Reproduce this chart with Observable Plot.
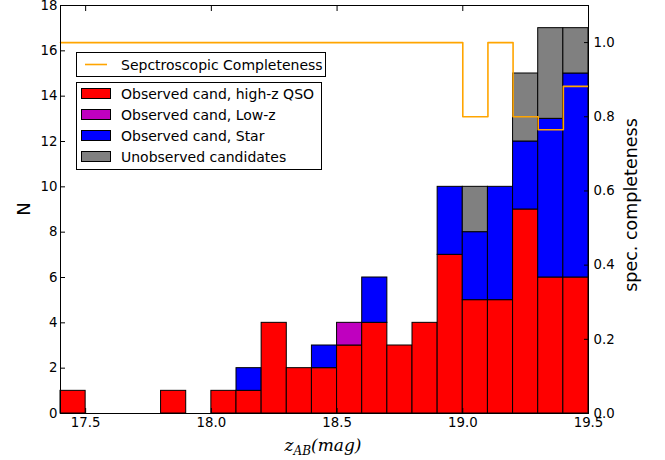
<!DOCTYPE html>
<html><head><meta charset="utf-8">
<script src="https://cdn.jsdelivr.net/npm/d3@7"></script>
<script src="https://cdn.jsdelivr.net/npm/@observablehq/plot@0.6"></script>
<style>
body{margin:0;background:#fff}
#chart svg{font-family:"DejaVu Sans",sans-serif;overflow:visible}
</style>
</head><body><div id="chart"></div>
<script>
// bin starts (width 0.1 mag)
const binStarts = [17.4,17.5,17.6,17.7,17.8,17.9,18.0,18.1,18.2,18.3,18.4,18.5,18.6,18.7,18.8,18.9,19.0,19.1,19.2,19.3,19.4];
const binEnd = 19.5;
const qso   = [1,0,0,0,1,0,1,1,4,2,2,3,4,3,4,7,5,5,9,6,6];
const lowz  = [0,0,0,0,0,0,0,0,0,0,0,1,0,0,0,0,0,0,0,0,0];
const star  = [0,0,0,0,0,0,0,1,0,0,1,0,2,0,0,3,3,5,3,7,9];
const unobs = [0,0,0,0,0,0,0,0,0,0,0,0,0,0,0,0,2,0,3,4,2];
const completeness = [1,1,1,1,1,1,1,1,1,1,1,1,1,1,1,1,0.8,1,0.8,0.765,0.882];
const seriesNames = ["Observed cand, high-z QSO","Observed cand, Low-z","Observed cand, Star","Unobserved candidates"];
const seriesColors = ["#ff0000","#bf00bf","#0000ff","#808080"];
const lineName = "Sepctroscopic Completeness";
const xTicks = [17.5,18.0,18.5,19.0,19.5];
const yTicks = [0,2,4,6,8,10,12,14,16,18];
const y2Ticks = [0,0.2,0.4,0.6,0.8,1.0];
const yMax = 18, y2Max = 1.1;

const W = 665, H = 460;
const mL = 60, mR = 77, mT = 5, mB = 47;
const FS = 13.3, LFS = 14;

const series = [qso, lowz, star, unobs];
const rects = [];
binStarts.forEach((s, i) => {
  let acc = 0;
  series.forEach((arr, k) => {
    const v = arr[i];
    if (v > 0) rects.push({x1: s, x2: i + 1 < binStarts.length ? binStarts[i+1] : binEnd, y1: acc, y2: acc + v, series: seriesNames[k]});
    acc += v;
  });
});
const k2 = yMax / y2Max;
const linePts = binStarts.map((s, i) => ({x: s, c: completeness[i]}));
linePts.push({x: binEnd, c: completeness[completeness.length - 1]});

const fmt1 = d => d.toFixed(1);
const chart = Plot.plot({
  width: W, height: H,
  marginLeft: mL, marginRight: mR, marginTop: mT, marginBottom: mB,
  x: {domain: [binStarts[0], binEnd]},
  y: {domain: [0, yMax]},
  color: {domain: seriesNames, range: seriesColors},
  marks: [
    Plot.rect(rects, {x1: "x1", x2: "x2", y1: "y1", y2: "y2", fill: "series", stroke: "black", strokeWidth: 1}),
    Plot.line(linePts, {x: "x", y: d => d.c * k2, curve: "step-after", stroke: "#ffa500", strokeWidth: 1.6}),
    Plot.frame({stroke: "black", strokeWidth: 1}),
    // inward ticks
    Plot.axisX({anchor: "bottom", ticks: xTicks, tickSize: 5, dy: -5, fill: "none", label: null, stroke: "black"}),
    Plot.axisX({anchor: "top", ticks: xTicks, tickSize: 5, dy: 5, fill: "none", label: null, stroke: "black"}),
    Plot.axisY({anchor: "left", ticks: yTicks, tickSize: 5, dx: 5, fill: "none", label: null, stroke: "black"}),
    Plot.axisY({anchor: "right", ticks: y2Ticks.map(v => v * k2), tickSize: 5, dx: -5, fill: "none", label: null, stroke: "black"}),
    // tick labels
    Plot.axisX({anchor: "bottom", ticks: xTicks, tickSize: 0, tickPadding: 4, tickFormat: fmt1, label: null, fontSize: FS, fill: "black"}),
    Plot.axisY({anchor: "left", ticks: yTicks, tickSize: 0, tickPadding: 3, label: null, fontSize: FS, fill: "black"}),
    Plot.axisY({anchor: "right", ticks: y2Ticks.map(v => v * k2), tickSize: 0, tickPadding: 5, tickFormat: d => fmt1(d / k2), label: null, fontSize: FS, fill: "black"})
  ]
});
document.getElementById("chart").appendChild(chart);

const svg = d3.select(chart);
// axis labels
svg.append("text").attr("transform", `translate(30,${(mT + H - mB) / 2}) rotate(-90)`)
  .attr("text-anchor", "middle").attr("font-size", 18).attr("fill", "black").text("N");
svg.append("text").attr("transform", `translate(637,205) rotate(-90)`)
  .attr("text-anchor", "middle").attr("font-size", 17.5).attr("fill", "black").text("spec. completeness");
const xl = svg.append("text").attr("x", 323).attr("y", 451).attr("text-anchor", "middle")
  .attr("font-family", "'DejaVu Serif', serif").attr("font-style", "italic").attr("font-size", 17).attr("fill", "black");
xl.append("tspan").text("z");
xl.append("tspan").attr("dy", 4).attr("font-size", 12).text("AB");
xl.append("tspan").attr("dy", -4).text("(mag)");

// legends
const lg1 = svg.append("g").attr("text-anchor", "start");
lg1.append("rect").attr("x", 76.5).attr("y", 52.5).attr("width", 249).attr("height", 24).attr("fill", "white").attr("stroke", "black");
lg1.append("line").attr("x1", 85).attr("x2", 107).attr("y1", 64.5).attr("y2", 64.5).attr("stroke", "#ffa500").attr("stroke-width", 1.6);
lg1.append("text").attr("x", 121).attr("y", 64.5).attr("dy", "0.36em").attr("text-anchor", "start").attr("font-size", LFS).attr("fill", "black").text(lineName);

const lg2 = svg.append("g").attr("text-anchor", "start");
lg2.append("rect").attr("x", 76.5).attr("y", 82.5).attr("width", 245).attr("height", 87).attr("fill", "white").attr("stroke", "black");
seriesNames.forEach((n, i) => {
  const cy = 93.5 + i * 21;
  lg2.append("rect").attr("x", 81.5).attr("y", cy - 5).attr("width", 29).attr("height", 10)
    .attr("fill", seriesColors[i]).attr("stroke", "black");
  lg2.append("text").attr("x", 121).attr("y", cy).attr("dy", "0.36em").attr("text-anchor", "start").attr("font-size", LFS).attr("fill", "black").text(n);
});
</script></body></html>
